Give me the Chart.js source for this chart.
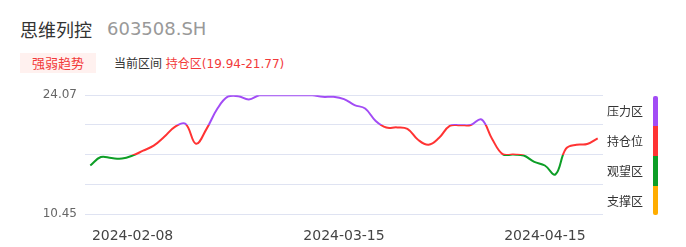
<!DOCTYPE html>
<html>
<head>
<meta charset="utf-8">
<script src="https://cdn.jsdelivr.net/npm/chart.js@4"></script>
<style>
  body { margin: 0; width: 686px; height: 247px; background: #fff; font-family: "DejaVu Sans", "Noto Sans CJK SC", sans-serif; overflow: hidden; }
  .abs { position: absolute; white-space: nowrap; }
  #name { left: 20px; top: 16px; font-size: 18px; color: #333; font-family: "Noto Sans CJK SC", sans-serif; line-height: 26px; }
  #code { left: 107px; top: 16px; font-size: 18px; color: #999; line-height: 26px; }
  #badge { left: 20px; top: 53px; width: 76px; height: 20px; background: #fff1ef; color: #f23a3a; font-size: 13px; line-height: 20px; text-align: center; font-family: "Noto Sans CJK SC", sans-serif; }
  #range { left: 114px; top: 53px; font-size: 12px; line-height: 20px; color: #333; }
  #range span { color: #f23a3a; }
  .cjk { font-family: "Noto Sans CJK SC", sans-serif; }
  #box { position: absolute; left: 0; top: 80px; width: 610px; height: 167px; }
  .lg { position: absolute; left: 607px; font-size: 12px; color: #333; font-family: "Noto Sans CJK SC", sans-serif; line-height: 16px; }
  .bar { position: absolute; left: 653px; width: 5px; }
</style>
</head>
<body>
<div id="name" class="abs">思维列控</div>
<div id="code" class="abs">603508.SH</div>
<div id="badge" class="abs">强弱趋势</div>
<div id="range" class="abs"><span class="cjk" style="color:#333">当前区间</span> <span><span class="cjk">持仓区</span>(19.94-21.77)</span></div>
<div id="box"><canvas id="c"></canvas></div>
<div id="legend"></div>
<script>
// 数据
const dates = [
  '2024-02-02','2024-02-05','2024-02-06','2024-02-07','2024-02-08',
  '2024-02-19','2024-02-20','2024-02-21','2024-02-22','2024-02-23',
  '2024-02-26','2024-02-27','2024-02-28','2024-02-29','2024-03-01',
  '2024-03-04','2024-03-05','2024-03-06','2024-03-07','2024-03-08',
  '2024-03-11','2024-03-12','2024-03-13','2024-03-14','2024-03-15',
  '2024-03-18','2024-03-19','2024-03-20','2024-03-21','2024-03-22',
  '2024-03-25','2024-03-26','2024-03-27','2024-03-28','2024-03-29',
  '2024-04-01','2024-04-02','2024-04-03',
  '2024-04-08','2024-04-09','2024-04-10','2024-04-11','2024-04-12',
  '2024-04-15','2024-04-16','2024-04-17','2024-04-18','2024-04-19',
  '2024-04-22'
];
const values = [
  16.01, 16.98, 16.86, 16.81, 17.15,
  17.71, 18.28, 19.30, 20.44, 20.80,
  18.51, 20.21, 22.48, 23.90, 23.96,
  23.58, 24.07, 24.07, 24.07, 24.07,
  24.07, 24.07, 23.88, 23.88, 23.62,
  22.94, 22.54, 21.12, 20.36, 20.38,
  20.21, 18.96, 18.39, 19.19, 20.55,
  20.63, 20.66, 21.29,
  19.08, 17.32, 17.26, 17.15, 16.43,
  16.01, 14.99, 17.94, 18.39, 18.47,
  19.13
];
const tickDates = ['2024-02-08', '2024-03-15', '2024-04-15'];
const yMin = 10.45;
const yMax = 24.07;
const zoneNames = ['压力区', '持仓位', '观望区', '支撑区'];
const zoneColors = ['#a24cf5', '#ff3333', '#0d9e26', '#ffad00'];

const step = (yMax - yMin) / 4;
const bounds = [yMax - step, yMax - 2 * step, yMax - 3 * step];

// 右侧图例
const legend = document.getElementById('legend');
zoneNames.forEach((n, i) => {
  const t = document.createElement('div');
  t.className = 'lg';
  t.style.top = (103 + i * 30) + 'px';
  t.textContent = n;
  legend.appendChild(t);
  const b = document.createElement('div');
  b.className = 'bar';
  b.style.top = (96 + i * 30) + 'px';
  b.style.height = (i == 3 ? 29 : 30) + 'px';
  b.style.background = zoneColors[i];
  if (i == 0) b.style.borderRadius = '2px 2px 0 0';
  if (i == 3) b.style.borderRadius = '0 0 2px 2px';
  legend.appendChild(b);
});

function lineColor(ctx) {
  const chart = ctx.chart;
  const area = chart.chartArea;
  if (!area) return zoneColors[1];
  const y = chart.scales.y;
  const g = chart.ctx.createLinearGradient(0, area.top, 0, area.bottom);
  const h = area.bottom - area.top;
  let prev = 0;
  bounds.forEach((v, i) => {
    const f = Math.min(1, Math.max(0, (y.getPixelForValue(v) - area.top) / h));
    g.addColorStop(prev, zoneColors[i]);
    g.addColorStop(f, zoneColors[i]);
    prev = f;
  });
  g.addColorStop(prev, zoneColors[3]);
  g.addColorStop(1, zoneColors[3]);
  return g;
}

new Chart(document.getElementById('c'), {
  type: 'line',
  data: {
    labels: dates,
    datasets: [{
      data: values,
      borderColor: lineColor,
      borderWidth: 2,
      pointRadius: 0,
      tension: 0.4
    }]
  },
  options: {
    responsive: true,
    maintainAspectRatio: false,
    animation: false,
    layout: { padding: { top: 14, right: 7, left: 0, bottom: 0 } },
    plugins: { legend: { display: false }, tooltip: { enabled: false } },
    scales: {
      x: {
        offset: true,
        grid: { display: false },
        border: { display: false },
        ticks: {
          autoSkip: false,
          maxRotation: 0,
          padding: 6,
          color: '#444',
          font: { family: 'DejaVu Sans', size: 14 },
          callback: function (v) {
            const d = this.getLabelForValue(v);
            return tickDates.includes(d) ? d : '';
          }
        },
        afterFit: s => { s.height = 33; }
      },
      y: {
        min: yMin,
        max: yMax,
        grid: { color: '#dfe3f2', drawTicks: false, lineWidth: 1 },
        border: { display: false },
        ticks: {
          stepSize: step,
          padding: 8,
          color: '#666',
          font: { family: 'DejaVu Sans', size: 12 },
          callback: (v) => {
            if (Math.abs(v - yMin) < 0.001) return yMin.toFixed(2);
            if (Math.abs(v - yMax) < 0.001) return yMax.toFixed(2);
            return '';
          }
        },
        afterFit: s => { s.width = 85; }
      }
    }
  }
});
</script>
</body>
</html>
